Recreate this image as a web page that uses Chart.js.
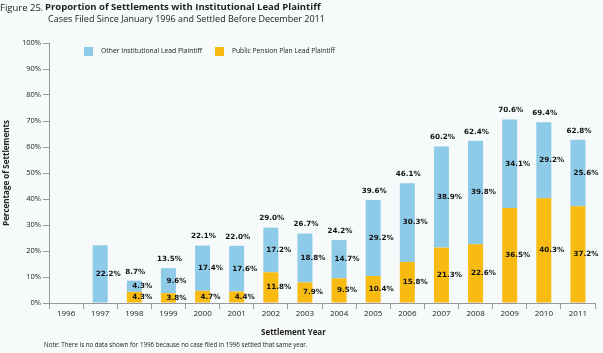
<!DOCTYPE html>
<html>
<head>
<meta charset="utf-8">
<script src="https://cdn.jsdelivr.net/npm/chart.js@4"></script>
<style>
  body { margin: 0; background: #f7fafa; font-family: "Open Sans", sans-serif; color: #222; }
  #wrap { position: relative; width: 603px; height: 353px; overflow: hidden; }
  #chart { position: absolute; left: 0; top: 0; }
  .txt { position: absolute; white-space: nowrap; }
  .sw { position: absolute; width: 9px; height: 9px; }
</style>
</head>
<body>
<div id="wrap">
  <canvas id="chart" width="603" height="353"></canvas>
  <div class="txt" style="left:0;top:1px;font-size:9.5px;">Figure 25.</div>
  <div class="txt" id="title" style="left:45px;top:0;font-size:10px;font-weight:bold;">Proportion of Settlements with Institutional Lead Plaintiff</div>
  <div class="txt" style="left:48px;top:12px;font-size:9px;">Cases Filed Since January 1996 and Settled Before December 2011</div>
  <div class="sw" style="left:84px;top:47px;background:#8ecbe9;"></div>
  <div class="txt" style="left:101px;top:46px;font-size:6.8px;">Other Institutional Lead Plaintiff</div>
  <div class="sw" style="left:215px;top:47px;background:#f7bb12;"></div>
  <div class="txt" style="left:232px;top:46px;font-size:6.7px;">Public Pension Plan Lead Plaintiff</div>
  <div class="txt" style="left:261px;top:326px;font-size:8px;font-weight:bold;">Settlement Year</div>
  <div class="txt" style="left:44px;top:340px;font-size:6.2px;">Note: There is no data shown for 1996 because no case filed in 1996 settled that same year.</div>
</div>
<script>
const years = ['1996', '1997', '1998', '1999', '2000', '2001', '2002', '2003', '2004', '2005', '2006', '2007', '2008', '2009', '2010', '2011'];
const publicPension = [null, null, 4.3, 3.8, 4.7, 4.4, 11.8, 7.9, 9.5, 10.4, 15.8, 21.3, 22.6, 36.5, 40.3, 37.2];
const otherInstitutional = [null, 22.2, 4.3, 9.6, 17.4, 17.6, 17.2, 18.8, 14.7, 29.2, 30.3, 38.9, 39.8, 34.1, 29.2, 25.6];
const totals = [null, null, 8.7, 13.5, 22.1, 22.0, 29.0, 26.7, 24.2, 39.6, 46.1, 60.2, 62.4, 70.6, 69.4, 62.8];
const yTicks = [0, 10, 20, 30, 40, 50, 60, 70, 80, 90, 100];

// the bold title runs to about x=321 in the source figure
const titleEl = document.querySelector('#title');
titleEl.style.fontSize = (10 * 276 / titleEl.getBoundingClientRect().width) + 'px';

const ctx = document.querySelector('#chart').getContext('2d');

// segment values in the middle of each piece, totals above the stack
const barLabels = {
    id: 'barLabels',
    afterDatasetsDraw(chart) {
        const c = chart.ctx;
        c.save();
        c.font = 'bold 7.2px "DejaVu Sans"';
        c.fillStyle = '#111';
        c.textAlign = 'center';
        c.textBaseline = 'middle';
        chart.data.datasets.forEach((ds, i) => {
            chart.getDatasetMeta(i).data.forEach((bar, j) => {
                const v = ds.data[j];
                if (v == null) return;
                c.fillText(v.toFixed(1) + '%', bar.x + 8, (bar.y + bar.base) / 2);
            });
        });
        const top = chart.getDatasetMeta(1).data;
        totals.forEach((t, j) => {
            if (t == null) return;
            c.fillText(t.toFixed(1) + '%', top[j].x + 1, top[j].y - 9);
        });
        c.restore();
    }
};

new Chart(ctx, {
    type: 'bar',
    data: {
        labels: years,
        datasets: [{
            label: 'Public Pension Plan Lead Plaintiff',
            data: publicPension,
            backgroundColor: '#f7bb12',
            barPercentage: 0.44,
            categoryPercentage: 1
        }, {
            label: 'Other Institutional Lead Plaintiff',
            data: otherInstitutional,
            backgroundColor: '#8ecbe9',
            barPercentage: 0.44,
            categoryPercentage: 1
        }]
    },
    options: {
        responsive: false,
        animation: false,
        layout: { padding: { top: 43, right: 8, bottom: 30, left: 0 } },
        plugins: {
            legend: { display: false },
            tooltip: { enabled: false }
        },
        scales: {
            x: {
                stacked: true,
                grid: { offset: true, drawOnChartArea: false, tickLength: 6, color: '#999' },
                border: { color: '#999' },
                ticks: { color: '#222', font: { family: 'Open Sans', size: 8 }, padding: 0, maxRotation: 0 },
                afterFit: scale => { scale.height = 20; }
            },
            y: {
                stacked: true,
                min: 0,
                max: 100,
                afterBuildTicks: scale => { scale.ticks = yTicks.map(v => ({ value: v })); },
                grid: { drawOnChartArea: false, tickLength: 6, color: '#999' },
                border: { color: '#999' },
                ticks: { color: '#222', font: { family: 'Open Sans', size: 7.5 }, padding: 2, callback: v => v + '%' },
                title: { display: true, text: 'Percentage of Settlements', color: '#222', font: { family: 'Open Sans', size: 8, weight: 'bold' }, padding: { top: 2, bottom: 0 } },
                afterFit: scale => { scale.width = 49; }
            }
        }
    },
    plugins: [barLabels]
});
</script>
</body>
</html>
